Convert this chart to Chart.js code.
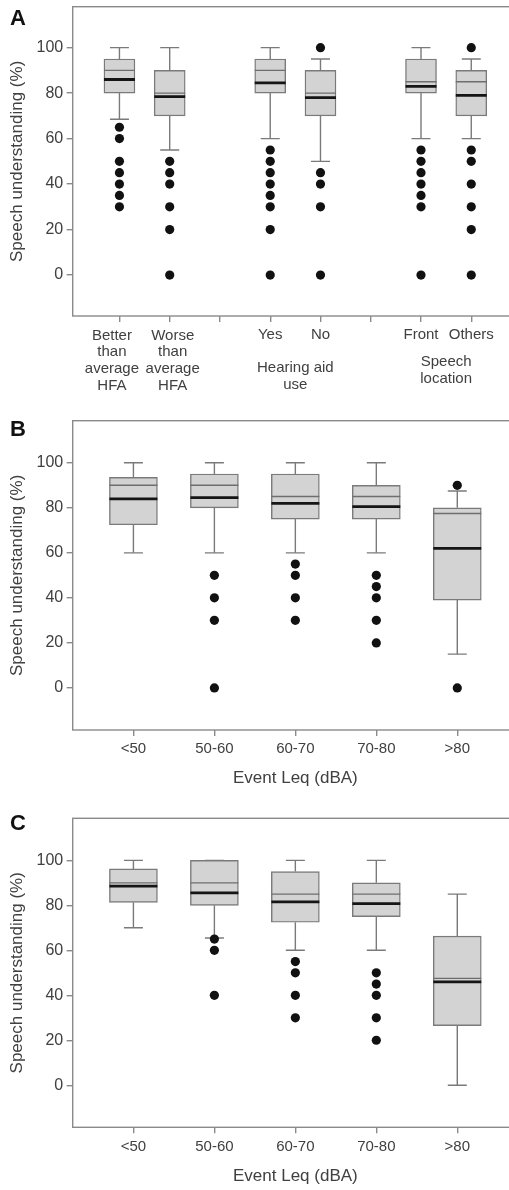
<!DOCTYPE html>
<html>
<head>
<meta charset="utf-8">
<script src="https://cdn.jsdelivr.net/npm/chart.js@4.4.1/dist/chart.umd.min.js"></script>
<style>
  html, body { margin: 0; padding: 0; background: #fff; overflow: hidden; width: 509px; height: 1190px; }
  .panel { position: absolute; left: 0; width: 518px; }
  .letter { position: absolute; left: 10px; font: bold 22px/22px "Liberation Sans", Arial, sans-serif; color: #111; }
</style>
</head>
<body>
<div class="panel" style="top:0;height:400px"><canvas id="chartA" width="518" height="400"></canvas></div>
<div class="panel" style="top:400px;height:390px"><canvas id="chartB" width="518" height="390"></canvas></div>
<div class="panel" style="top:790px;height:400px"><canvas id="chartC" width="518" height="400"></canvas></div>
<div class="letter" style="top:7px">A</div>
<div class="letter" style="top:418px">B</div>
<div class="letter" style="top:812px">C</div>
<script>
// panel A: by HFA, hearing aid use, speech location
const aPos = [1, 2, 4, 5, 7, 8];
const aTicks = [1, 2, 3, 4, 5, 6, 7, 8];
const aLabels = [['Better', 'than', 'average', 'HFA'], ['Worse', 'than', 'average', 'HFA'], 'Yes', 'No', 'Front', 'Others'];
const aGroupPos = [4.5, 7.5];
const aGroupLabels = [['Hearing aid', 'use'], ['Speech', 'location']];
const aLow = [68.5, 55, 60, 50, 60, 60];
const aQ1 = [80, 70, 80, 70, 80, 70];
const aMedian = [90, 80, 90, 80, 85, 85];
const aMean = [86, 78.5, 84.5, 78, 83, 79];
const aQ3 = [95, 90, 95, 90, 95, 90];
const aHigh = [100, 100, 100, 95, 100, 95];
const aOutliers = [
  [65, 60, 50, 45, 40, 35, 30],
  [50, 45, 40, 30, 20, 0],
  [55, 50, 45, 40, 35, 30, 20, 0],
  [100, 45, 40, 30, 0],
  [55, 50, 45, 40, 35, 30, 0],
  [100, 55, 50, 40, 30, 20, 0]
];

// panels B and C: event Leq bands
const eventPos = [1, 2, 3, 4, 5];
const eventLabels = ['<50', '50-60', '60-70', '70-80', '>80'];

const bLow = [60, 60, 60, 60, 15];
const bQ1 = [72.5, 80, 75, 75, 39];
const bMedian = [90, 90, 85, 85, 77.5];
const bMean = [84, 84.5, 82, 80.5, 62];
const bQ3 = [93.5, 95, 95, 90, 80];
const bHigh = [100, 100, 100, 100, 87.5];
const bOutliers = [[], [50, 40, 30, 0], [55, 50, 40, 30], [50, 45, 40, 30, 20], [90, 0]];

const cLow = [70, 65.5, 60, 60, 0];
const cQ1 = [81.3, 80, 72.5, 75, 26.5];
const cMedian = [90, 90, 85, 85, 47.5];
const cMean = [88.5, 85.5, 81.5, 80.8, 46];
const cQ3 = [96.2, 100, 95, 90, 66.3];
const cHigh = [100, 100, 100, 100, 85];
const cOutliers = [[], [65, 60, 40], [55, 50, 40, 30], [50, 45, 40, 30, 20], []];

const yTicks = [0, 20, 40, 60, 80, 100];

const textColor = '#404040';
const axisColor = '#8a8a8a';
const boxFill = '#d3d3d3';
const boxLine = '#7a7a7a';
const fontFamily = '"Liberation Sans", Arial, sans-serif';

// plot frame (right side falls outside the window, like the cropped figure)
const frame = {
  id: 'frame',
  afterDraw(chart) {
    const { ctx, chartArea: a } = chart;
    ctx.save();
    ctx.strokeStyle = axisColor;
    ctx.lineWidth = 1.4;
    ctx.strokeRect(a.left, a.top, a.right - a.left, a.bottom - a.top);
    ctx.restore();
  }
};

// multi-line captions under the x axis of panel A, placed at x scale values
const captions = {
  id: 'captions',
  afterDraw(chart, args, opts) {
    const { ctx } = chart;
    const x = chart.scales.x;
    ctx.save();
    ctx.fillStyle = textColor;
    ctx.font = '15px ' + fontFamily;
    ctx.textAlign = 'center';
    ctx.textBaseline = 'middle';
    opts.items.forEach(it => {
      const px = x.getPixelForValue(it.value) + it.dx;
      it.lines.forEach((t, j) => ctx.fillText(t, px, x.top + it.dy + j * opts.lineHeight));
    });
    ctx.restore();
  }
};

function boxDatasets(pos, low, q1, median, mean, q3, high, outliers, boxWidth) {
  const whiskers = [];
  pos.forEach((p, i) => {
    whiskers.push({ x: p, y: q3[i] }, { x: p, y: high[i] }, { x: p, y: null });
    whiskers.push({ x: p, y: low[i] }, { x: p, y: q1[i] }, { x: p, y: null });
  });
  const caps = pos.map((p, i) => ({ x: p, y: high[i] }))
    .concat(pos.map((p, i) => ({ x: p, y: low[i] })));
  const dots = [];
  pos.forEach((p, i) => outliers[i].forEach(v => dots.push({ x: p, y: v })));

  const lineMark = (data, color, width, order) => ({
    type: 'scatter', data, order,
    pointStyle: 'line', pointRadius: boxWidth / 2,
    borderColor: color, pointBorderColor: color,
    borderWidth: width, pointBorderWidth: width
  });

  return [
    {
      type: 'bar', order: 5,
      data: pos.map((p, i) => ({ x: p, y: [q1[i], q3[i]] })),
      backgroundColor: boxFill, borderColor: boxLine, borderWidth: 1.4,
      borderSkipped: false, barThickness: boxWidth
    },
    {
      type: 'scatter', order: 4, data: whiskers, showLine: true, spanGaps: false,
      borderColor: boxLine, borderWidth: 1.4, pointRadius: 0
    },
    {
      type: 'scatter', order: 3, data: caps,
      pointStyle: 'line', pointRadius: 9.5,
      borderColor: boxLine, pointBorderColor: boxLine, borderWidth: 1.4, pointBorderWidth: 1.4
    },
    lineMark(pos.map((p, i) => ({ x: p, y: median[i] })), '#6e6e6e', 1.4, 2),
    lineMark(pos.map((p, i) => ({ x: p, y: mean[i] })), '#151515', 2.8, 1),
    {
      type: 'scatter', order: 0, data: dots,
      pointRadius: 4.6, backgroundColor: '#111', pointBackgroundColor: '#111', borderWidth: 0, pointBorderWidth: 0
    }
  ];
}

function drawPanel(id, p) {
  new Chart(document.getElementById(id), {
    type: 'bar',
    data: {
      datasets: boxDatasets(p.pos, p.low, p.q1, p.median, p.mean, p.q3, p.high, p.outliers, p.boxWidth)
    },
    options: {
      responsive: false,
      animation: false,
      events: [],
      layout: { autoPadding: false, padding: { top: p.padTop, left: 0, right: 0, bottom: 0 } },
      plugins: {
        legend: { display: false },
        tooltip: { enabled: false },
        captions: p.captions || {}
      },
      scales: {
        x: {
          type: 'linear',
          min: p.xMin,
          max: p.xMax,
          offset: false,
          afterBuildTicks: s => { s.ticks = p.ticks.map(v => ({ value: v })); },
          afterFit: s => { s.height = p.xHeight; s.paddingLeft = 0; s.paddingRight = 0; },
          border: { display: false },
          grid: { drawOnChartArea: false, drawTicks: true, tickLength: 6, color: axisColor, lineWidth: 1.4, offset: false },
          ticks: {
            autoSkip: false, maxRotation: 0, minRotation: 0, padding: 5,
            color: textColor,
            font: { family: fontFamily, size: 15, lineHeight: 1.11 },
            callback: v => {
              const i = p.pos.indexOf(v);
              // multi-line labels are drawn by the captions plugin
              return i >= 0 && !Array.isArray(p.labels[i]) ? p.labels[i] : '';
            }
          },
          title: {
            display: !!p.xTitle,
            text: p.xTitle || '',
            color: textColor,
            font: { family: fontFamily, size: 17 },
            padding: { top: 0, bottom: p.xTitlePad || 0 }
          }
        },
        y: {
          min: p.yMin,
          max: p.yMax,
          afterBuildTicks: s => { s.ticks = yTicks.map(v => ({ value: v })); },
          afterFit: s => { s.width = 72.7; s.paddingTop = 0; s.paddingBottom = 0; },
          border: { display: false },
          grid: { drawOnChartArea: false, drawTicks: true, tickLength: 6, color: axisColor, lineWidth: 1.4 },
          ticks: {
            padding: 3.5,
            color: textColor,
            font: { family: fontFamily, size: 16 }
          },
          title: {
            display: true,
            text: 'Speech understanding (%)',
            color: textColor,
            font: { family: fontFamily, size: 17 },
            padding: { top: 7, bottom: 0 }
          }
        }
      }
    },
    plugins: p.captions ? [frame, captions] : [frame]
  });
}

drawPanel('chartA', {
  pos: aPos, ticks: aTicks, labels: aLabels,
  low: aLow, q1: aQ1, median: aMedian, mean: aMean, q3: aQ3, high: aHigh, outliers: aOutliers,
  boxWidth: 31, xMin: 0.07, xMax: 8.93, yMin: -18, yMax: 118,
  padTop: 6.7, xHeight: 84,
  captions: {
    lineHeight: 16.7,
    items: [
      { value: aPos[0], lines: aLabels[0], dx: -7.5, dy: 19.5 },
      { value: aPos[1], lines: aLabels[1], dx: 3, dy: 19.5 },
      { value: aGroupPos[0], lines: aGroupLabels[0], dx: 0, dy: 52 },
      { value: aGroupPos[1], lines: aGroupLabels[1], dx: 0, dy: 46 }
    ]
  }
});

drawPanel('chartB', {
  pos: eventPos, ticks: eventPos, labels: eventLabels,
  low: bLow, q1: bQ1, median: bMedian, mean: bMean, q3: bQ3, high: bHigh, outliers: bOutliers,
  boxWidth: 48, xMin: 0.25, xMax: 5.75, yMin: -18.7, yMax: 118.7,
  padTop: 20.7, xHeight: 60, xTitle: 'Event Leq (dBA)', xTitlePad: 1
});

drawPanel('chartC', {
  pos: eventPos, ticks: eventPos, labels: eventLabels,
  low: cLow, q1: cQ1, median: cMedian, mean: cMean, q3: cQ3, high: cHigh, outliers: cOutliers,
  boxWidth: 48, xMin: 0.25, xMax: 5.75, yMin: -18.7, yMax: 118.7,
  padTop: 28.3, xHeight: 62.7, xTitle: 'Event Leq (dBA)', xTitlePad: 3
});
</script>
</body>
</html>
